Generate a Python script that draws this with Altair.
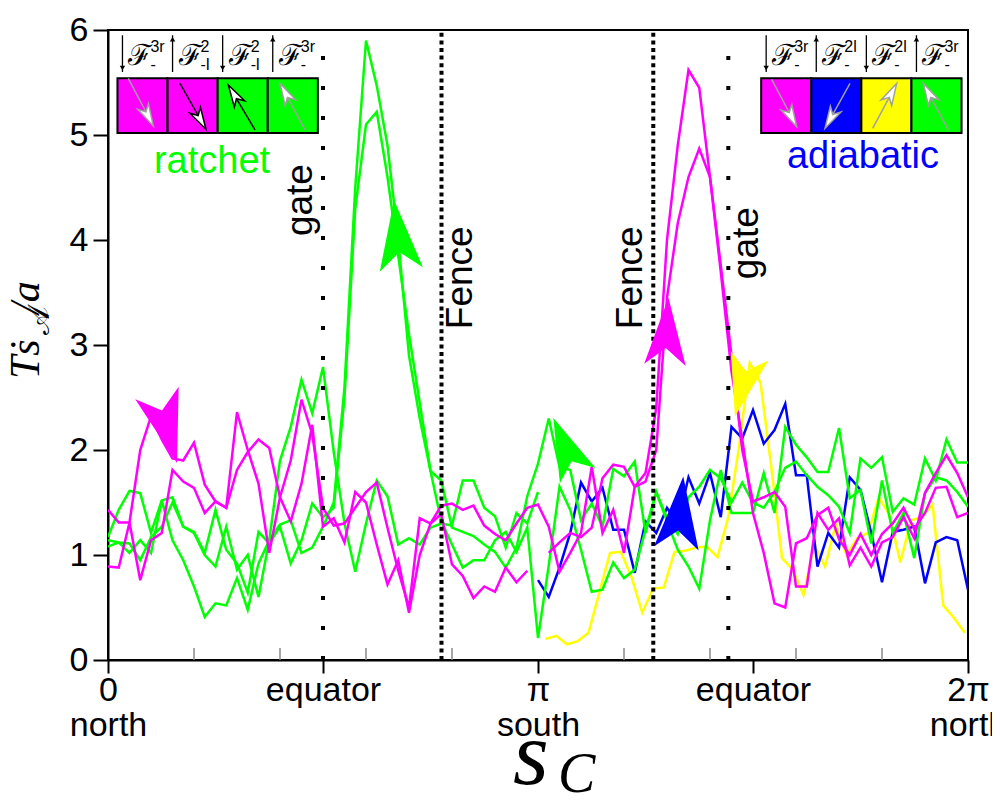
import math
import altair as alt
import pandas as pd

MAGENTA = "#ff00ff"
GREEN = "#00ff00"
BLUE = "#0000ff"
YELLOW = "#ffff00"
GREY = "#a0a0a0"

STEP = 1 / 40  # grid step of s_C in units of pi

# ---------------- traces: T s_A / a versus s_C (grid index, step pi/40) ----------------
green_a = [1.17, 1.43, 1.61, 1.59, 1.21, 1.52, 1.55, 1.27, 1.21, 1.0, 0.89, 1.27, 0.86, 1.0, 0.6, 1.14, 1.29, 1.33, 1.02, 1.07, 1.27,
           1.5, 2.6, 4.5, 5.9, 5.47, 4.9, 4.0, 2.9, 2.3, 1.8,
           1.71, 1.26, 1.22, 1.18, 1.1, 1.03, 0.88, 1.07, 1.56, 1.87,
           2.3, 1.84, 1.81, 1.33, 1.49, 1.27, 1.82, 1.75, 1.89, 1.21, 1.6, 1.32, 1.05, 0.89, 0.68, 1.33, 1.81, 1.40, 1.40,
           1.4, 1.78, 1.4, 2.22, 2.05, 1.93, 1.79, 1.79, 2.21, 1.54, 1.62, 1.11, 1.71, 1.21, 1.40, 0.97, 1.59, 1.74, 1.71, 1.6, 1.46]
green_b = [1.14, 1.12, 1.11, 0.95, 1.17, 1.27, 1.5, 1.27, 1.22, 1.02, 1.43, 1.05, 0.92, 0.64, 1.22, 1.11, 1.27, 0.92, 1.14, 1.49, 1.36,
           1.45, 2.5, 4.3, 5.1, 5.22, 4.6, 3.85, 3.1, 2.45, 1.8,
           1.32, 1.1, 0.88, 0.95, 0.95, 1.14, 1.22, 1.03, 1.26,
           0.21, 0.9, 1.65, 1.43, 1.05, 0.65, 0.67, 0.93, 0.78, 0.86, 1.24, 1.6, 1.35, 1.2, 1.55, 1.65, 1.81, 1.73, 1.5,
           1.69, 1.5, 1.45, 1.6, 1.83, 1.89, 1.76, 1.65, 1.57, 1.46, 1.21, 1.92, 1.83, 1.93, 1.41, 1.54, 1.48, 1.92, 1.71, 2.1, 1.88, 1.88]
green_c = [1.08, 1.12, 1.02, 1.14, 1.02, 1.52, 1.14, 0.95, 0.7, 0.41, 0.54, 0.52, 0.78, 0.48, 0.92, 1.14, 1.9, 2.22, 2.67, 2.35, 2.79,
           1.98, 1.3, 0.84, 1.3, 1.71, 1.56, 1.1, 1.16, 1.1, 1.26, 1.3, 1.28, 1.71, 1.71, 1.45, 1.37, 1.07, 1.4, 1.3, 1.6]
magenta_a = [1.43, 1.31, 1.31, 2.0, 2.32, 2.1, 1.92, 1.9, 2.07, 1.67, 1.51, 1.45, 2.36, 2.0, 1.68, 1.02, 1.55, 1.9, 2.48, 2.15, 1.45,
             1.28, 1.30, 1.45, 1.6, 1.69, 1.26, 0.85, 0.5, 1.35, 1.30, 1.47, 1.49, 1.43, 1.47, 1.28, 1.2, 1.14,
             1.3, 1.45, 1.48, 1.27, 0.84, 1.02, 1.21, 1.84, 1.21, 1.43, 1.02, 1.65, 1.78, 2.4, 4.0, 4.9, 5.62, 5.45, 4.6, 3.7, 2.75, 2.1,
             1.4, 1.02, 0.54, 0.5, 1.11, 1.16, 1.38, 1.45, 1.15, 1.0, 1.2, 1.0, 1.2, 1.3, 1.45, 1.25, 1.4, 1.64, 1.65, 1.36, 1.4]
magenta_b = [0.89, 0.88, 1.31, 0.76, 1.14, 1.21, 1.81, 1.70, 1.64, 1.40, 1.51, 1.45, 1.81, 1.98, 2.10, 2.02, 1.55, 1.32, 1.68, 2.24, 1.27,
             1.35, 1.12, 1.6, 1.5, 1.1, 0.72, 0.95, 0.45, 1.0, 1.30, 1.39, 0.91, 0.8, 0.59, 0.7, 0.65, 0.88, 0.74, 0.85]
magenta_c = [1.02, 1.12, 1.21, 1.17, 1.26, 1.73, 1.86, 1.84, 1.65, 1.7,
             2.0, 3.45, 4.16, 4.6, 4.87, 4.6, 3.76, 2.9, 2.0,
             1.51, 1.55, 1.6, 1.46, 0.7, 0.7, 1.4, 1.24, 1.35, 0.9, 1.07, 0.89, 1.12, 1.17, 1.36, 1.16, 1.59, 1.78, 1.95, 1.78, 1.55]
blue_a = [0.76, 0.6, 0.88, 1.21, 1.69, 1.51, 1.64, 1.24, 1.24, 0.83, 1.32, 1.21, 1.45, 1.30, 1.74, 1.49, 1.78, 1.36, 2.22, 2.11, 2.38,
          2.06, 2.19, 2.44, 1.76, 1.76, 0.89, 1.21, 1.07, 1.74, 1.62, 1.21, 0.74, 1.22, 1.24, 1.27, 0.73, 1.12, 1.17, 1.14, 0.67]
yellow_a = [0.2, 0.23, 0.15, 0.18, 0.26, 0.64, 1.02, 1.03, 0.79, 0.45, 0.68, 0.69, 1.03, 1.04, 1.07, 1.08, 0.98, 1.36, 2.03, 2.83,
            2.64, 1.84, 0.97, 0.86, 0.62, 1.1, 0.89, 1.29, 1.0, 1.16, 1.21, 1.55, 1.38, 0.93, 1.33, 1.36, 1.48, 0.52, 0.4, 0.26]

# (name, colour, first grid index, values) in drawing order
SERIES = [
    ("yellow_a", YELLOW, 40.7, yellow_a),
    ("blue_a", BLUE, 40, blue_a),
    ("green_c", GREEN, 0, green_c),
    ("green_b", GREEN, 0, green_b),
    ("green_a", GREEN, 0, green_a),
    ("magenta_b", MAGENTA, 0, magenta_b),
    ("magenta_c", MAGENTA, 41, magenta_c),
    ("magenta_a", MAGENTA, 0, magenta_a),
]

# x axis ticks (units of pi) and their two-line labels
tick_values = [0, 0.5, 1, 1.5, 2]
tick_line1 = ["0", "equator", "π", "equator", "2π"]
tick_line2 = ["north", "", "south", "", "north"]
minor_ticks = [0.2, 0.4, 0.6, 0.8, 1.2, 1.4, 1.6, 1.8]

# vertical markers (units of pi)
marker_s = [0.5, 0.7756, 1.2681, 1.4426]
marker_kind = ["gate", "fence", "fence", "gate"]
marker_label = ["gate", "Fence", "Fence", "gate"]
marker_label_s = [0.4488, 0.8209, 1.2163, 1.486]
marker_label_v = [4.38, 3.64, 3.64, 3.97]

# direction arrowheads on the traces
head_s = [0.1372, 0.6737, 1.064, 1.2993, 1.3298, 1.4751]
head_v = [2.21, 4.05, 2.03, 3.13, 1.405, 2.607]
head_colour = [MAGENTA, GREEN, GREEN, MAGENTA, BLUE, YELLOW]
head_angle = [164, 354, 337, 3, 5.5, 193.6]
head_size = [5300, 4900, 3900, 4500, 5200, 3900]

# inset legends
ratchet_colours = [MAGENTA, MAGENTA, GREEN, GREEN]
adiabatic_colours = [MAGENTA, BLUE, YELLOW, GREEN]
ratchet_dir = ["down", "up", "down", "up"]
adiabatic_dir = ["down", "up", "down", "up"]
ratchet_sup = ["3r", "2", "2", "3r"]
ratchet_sub = ["-", "-l", "-l", "-"]
adiabatic_sup = ["3r", "2l", "2l", "3r"]
adiabatic_sub = ["-", "-", "-", "-"]
# arrow inside each square: tail (s, v) -> tip (s, v), colour of outline
ratchet_arrows = [(0.0472, 5.540, 0.1054, 5.086, GREY), (0.1674, 5.492, 0.2279, 5.054, "black"),
                  (0.3419, 5.048, 0.2798, 5.476, "black"), (0.4581, 5.048, 0.4000, 5.492, GREY)]
adiabatic_arrows = [(1.5435, 5.530, 1.6016, 5.079, GREY), (1.7256, 5.492, 1.6674, 5.063, GREY),
                    (1.7784, 5.063, 1.8342, 5.492, GREY), (1.9542, 5.048, 1.8961, 5.492, GREY)]

# ---------------- layout constants ----------------
W, H = 860, 630
XPX = W / 2.0   # px per unit of pi
YPX = H / 6.0   # px per y unit
SQ_LEFT = {"ratchet": 0.022, "adiabatic": 1.519}
SQ_W = 0.1165
SQ_BOTTOM, SQ_TOP = 5.02, 5.54

XS = alt.Scale(domain=[0, 2], nice=False, zero=False)
YS = alt.Scale(domain=[0, 6], nice=False, zero=False)

label_expr = " : ".join(
    f"datum.value == {v} ? ['{a}', '{b}']" for v, a, b in zip(tick_values[:-1], tick_line1[:-1], tick_line2[:-1])
) + f" : ['{tick_line1[-1]}', '{tick_line2[-1]}']"

AX = alt.Axis(values=tick_values, title=None, grid=False, labelExpr=label_expr,
              labelFont="Liberation Sans", labelFontSize=34, labelColor="black",
              labelLineHeight=35, labelPadding=0, labelFlush=False, labelOverlap=False,
              tickSize=13, tickWidth=2, tickColor="black", domainColor="black", domainWidth=2)
AY = alt.Axis(values=[0, 1, 2, 3, 4, 5, 6], title=None, grid=False,
              labelFont="Liberation Sans", labelFontSize=34, labelColor="black", labelPadding=5,
              tickSize=15, tickWidth=2, tickColor="black", domainColor="black", domainWidth=2)


def X(field="s"):
    return alt.X(f"{field}:Q", scale=XS, axis=AX)


def Y(field="v"):
    return alt.Y(f"{field}:Q", scale=YS, axis=AY)


layers = []

# traces
for name, colour, start, vals in SERIES:
    df = pd.DataFrame({"s": [(start + k) * STEP for k in range(len(vals))], "v": vals, "k": list(range(len(vals)))})
    layers.append(alt.Chart(df).mark_line(color=colour, strokeWidth=2.5, clip=True, strokeJoin="miter")
                  .encode(x=X(), y=Y(), order="k:Q"))

# minor ticks inside the bottom axis
minor_df = pd.DataFrame({"s": minor_ticks, "v": [0] * len(minor_ticks), "v2": [12 / YPX] * len(minor_ticks)})
layers.append(alt.Chart(minor_df).mark_rule(color="#888888", strokeWidth=1.5)
              .encode(x=X(), y=Y(), y2="v2:Q"))

# gate / fence dotted lines
mk_df = pd.DataFrame({"s": marker_s, "kind": marker_kind, "v": 0, "v2": 6})
layers.append(alt.Chart(mk_df[mk_df.kind == "gate"]).mark_rule(color="black", strokeWidth=4, strokeDash=[4, 26], strokeCap="butt")
              .encode(x=X(), y=Y(), y2="v2:Q"))
layers.append(alt.Chart(mk_df[mk_df.kind == "fence"]).mark_rule(color="black", strokeWidth=4, strokeDash=[4, 3.6], strokeCap="butt")
              .encode(x=X(), y=Y(), y2="v2:Q"))

lab_df = pd.DataFrame({"s": marker_label_s, "v": marker_label_v, "t": marker_label})
layers.append(alt.Chart(lab_df).mark_text(angle=270, font="Liberation Sans", fontSize=37, color="black",
                                          align="center", baseline="middle")
              .encode(x=X(), y=Y(), text="t:N"))

# regime names
reg_df = pd.DataFrame({"s": [0.2419, 1.7558], "v": [4.743, 4.79], "t": ["ratchet", "adiabatic"], "c": [GREEN, BLUE]})
layers.append(alt.Chart(reg_df).mark_text(font="Liberation Sans", fontSize=38, align="center", baseline="middle")
              .encode(x=X(), y=Y(), text="t:N", color=alt.Color("c:N", scale=None)))

# inset squares
sq_rows, lab_rows, vrule_rows, vhead_rows = [], [], [], []
for key, cols, dirs, sups, subs in [("ratchet", ratchet_colours, ratchet_dir, ratchet_sup, ratchet_sub),
                                    ("adiabatic", adiabatic_colours, adiabatic_dir, adiabatic_sup, adiabatic_sub)]:
    for i in range(4):
        left = SQ_LEFT[key] + i * SQ_W
        sq_rows.append({"s": left, "s2": left + SQ_W, "v": SQ_BOTTOM, "v2": SQ_TOP, "c": cols[i]})
        ax = left + 5 / XPX
        vrule_rows.append({"s": ax, "v": 5.60, "v2": 5.95})
        if dirs[i] == "down":
            vhead_rows.append({"s": ax, "v": 5.60 + 4 / YPX, "shape": "triangle-down"})
        else:
            vhead_rows.append({"s": ax, "v": 5.95 - 4 / YPX, "shape": "triangle-up"})
        lab_rows.append({"s": left + 11 / XPX, "v": 5.667, "t": "ℱ", "size": 30})
        lab_rows.append({"s": left + 33 / XPX, "v": 5.79, "t": sups[i], "size": 16})
        lab_rows.append({"s": left + 33 / XPX, "v": 5.615, "t": subs[i], "size": 16})

sq_df = pd.DataFrame(sq_rows)
layers.append(alt.Chart(sq_df).mark_rect(stroke="black", strokeWidth=2)
              .encode(x=X(), x2="s2:Q", y=Y(), y2="v2:Q", color=alt.Color("c:N", scale=None)))

vr_df = pd.DataFrame(vrule_rows)
layers.append(alt.Chart(vr_df).mark_rule(color="black", strokeWidth=1.3).encode(x=X(), y=Y(), y2="v2:Q"))
vh_df = pd.DataFrame(vhead_rows)
layers.append(alt.Chart(vh_df).mark_point(filled=True, color="black", size=30, opacity=1)
              .encode(x=X(), y=Y(), shape=alt.Shape("shape:N", scale=None)))

lf_df = pd.DataFrame([r for r in lab_rows if r["size"] == 30])
layers.append(alt.Chart(lf_df).mark_text(font="DejaVu Serif", fontSize=29, align="left", baseline="alphabetic", color="black")
              .encode(x=X(), y=Y(), text="t:N"))
ls_df = pd.DataFrame([r for r in lab_rows if r["size"] == 16])
layers.append(alt.Chart(ls_df).mark_text(font="Liberation Sans", fontSize=16, align="left", baseline="alphabetic", color="black")
              .encode(x=X(), y=Y(), text="t:N"))

# arrows inside squares
HEAD_PATH = "M0,-1L0.55,1L0,0.45L-0.55,1Z"
sa_rows = []
for (ts, tv, ps, pv, col) in ratchet_arrows + adiabatic_arrows:
    dx, dy = (ps - ts) * XPX, (pv - tv) * YPX
    L = math.hypot(dx, dy)
    ang = math.degrees(math.atan2(dx, dy)) % 360
    cs = ps - (dx / L) * 11 / XPX
    cv = pv - (dy / L) * 11 / YPX
    sa_rows.append({"s": ts, "v": tv, "s2": cs, "v2": cv, "hs": cs, "hv": cv, "ang": ang, "c": col})
sa_df = pd.DataFrame(sa_rows)
layers.append(alt.Chart(sa_df).mark_rule(strokeWidth=1.5)
              .encode(x=X(), y=Y(), x2="s2:Q", y2="v2:Q", color=alt.Color("c:N", scale=None)))
layers.append(alt.Chart(sa_df).mark_point(shape=HEAD_PATH, filled=True, fill="white", size=480, strokeWidth=1.5, opacity=1)
              .encode(x=X("hs"), y=Y("hv"), angle=alt.Angle("ang:Q", scale=None),
                      stroke=alt.Stroke("c:N", scale=None)))

# big direction arrowheads
hd_df = pd.DataFrame({"s": head_s, "v": head_v, "c": head_colour, "ang": head_angle, "size": head_size})
layers.append(alt.Chart(hd_df).mark_point(shape=HEAD_PATH.replace("0.55", "0.62").replace("0.45", "0.5"),
                                          filled=True, opacity=1, strokeWidth=0)
              .encode(x=X(), y=Y(), color=alt.Color("c:N", scale=None), angle=alt.Angle("ang:Q", scale=None),
                      size=alt.Size("size:Q", scale=None)))

# axis titles built from pieces (plot-area pixel coordinates)
title_df = pd.DataFrame({"a": [0]})
SERIF = "Liberation Serif, DejaVu Serif"
layers.append(alt.Chart(title_df).mark_text(text="Tṡ", font=SERIF, fontStyle="italic", fontSize=42, angle=270,
                                            align="left", baseline="alphabetic", color="black")
              .encode(x=alt.value(-69), y=alt.value(349)))
layers.append(alt.Chart(title_df).mark_text(text="𝒜", font="DejaVu Serif", fontSize=30, angle=270,
                                            align="left", baseline="alphabetic", color="black")
              .encode(x=alt.value(-59), y=alt.value(305)))
layers.append(alt.Chart(title_df).mark_text(text="/a", font=SERIF, fontStyle="italic", fontSize=42, angle=270,
                                            align="left", baseline="alphabetic", color="black")
              .encode(x=alt.value(-69), y=alt.value(284)))
layers.append(alt.Chart(title_df).mark_text(text="s", font=SERIF, fontStyle="italic", fontSize=92,
                                            align="left", baseline="alphabetic", color="black")
              .encode(x=alt.value(405), y=alt.value(754)))
layers.append(alt.Chart(title_df).mark_text(text="C", font=SERIF, fontStyle="italic", fontSize=56,
                                            align="left", baseline="alphabetic", color="black")
              .encode(x=alt.value(450), y=alt.value(762)))

chart = alt.layer(*layers).properties(
    width=W, height=H,
    padding={"left": 100, "top": 22, "right": 24, "bottom": 134},
    autosize=alt.AutoSizeParams(type="none"),
    background="white",
).configure_view(stroke="black", strokeWidth=2)

chart.save("out.html", embed_options={"renderer": "svg", "actions": False})
